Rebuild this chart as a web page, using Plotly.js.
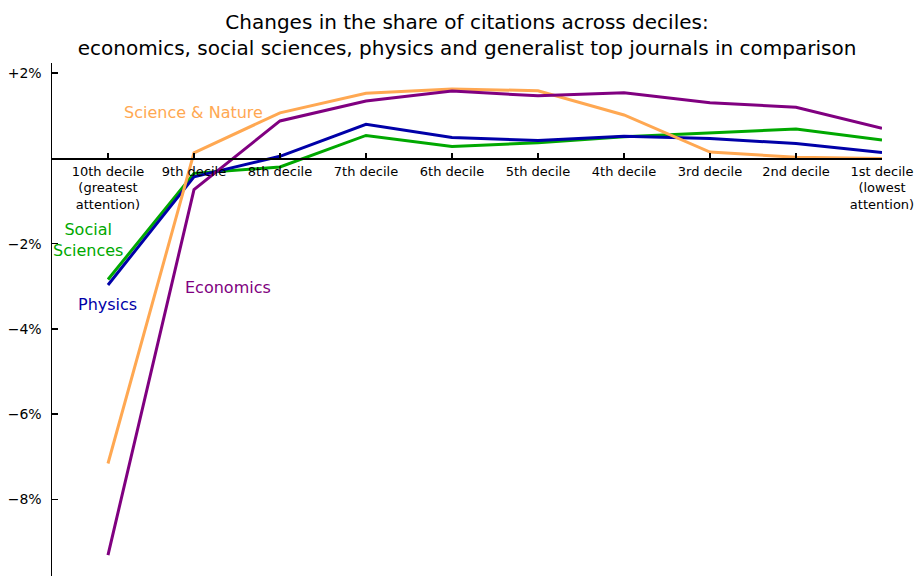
<!DOCTYPE html>
<html>
<head>
<meta charset="utf-8">
<script src="https://cdn.plot.ly/plotly-3.0.1.min.js"></script>
<style>html,body{margin:0;padding:0;background:#fff;}#chart{width:922px;height:576px;}</style>
</head>
<body>
<div id="chart"></div>
<script>
const deciles = ["10th decile<br>(greatest<br>attention)", "9th decile", "8th decile", "7th decile", "6th decile", "5th decile", "4th decile", "3rd decile", "2nd decile", "1st decile<br>(lowest<br>attention)"];
const xIndex = [0, 1, 2, 3, 4, 5, 6, 7, 8, 9];
const economics = [-9.31, -0.73, 0.88, 1.35, 1.58, 1.47, 1.54, 1.31, 1.20, 0.71];
const scienceNature = [-7.16, 0.13, 1.07, 1.53, 1.63, 1.59, 1.02, 0.15, 0.03, 0.0];
const physics = [-2.97, -0.43, 0.05, 0.80, 0.49, 0.42, 0.52, 0.47, 0.35, 0.14];
const socialSciences = [-2.84, -0.35, -0.20, 0.54, 0.28, 0.37, 0.51, 0.60, 0.69, 0.43];
const yTickVals = [-8, -6, -4, -2, 2];
const yTickText = ["\u22128%", "\u22126%", "\u22124%", "\u22122%", "+2%"];

const colors = {econ: "#800080", sci: "#FFA852", phys: "#0000A8", soc: "#00A800"};
const font = "DejaVu Sans, sans-serif";

function tr(y, c) {
  return {x: xIndex, y: y, type: "scatter", mode: "lines", line: {color: c, width: 3}, hoverinfo: "skip"};
}

const data = [
  tr(socialSciences, colors.soc),
  tr(physics, colors.phys),
  tr(scienceNature, colors.sci),
  tr(economics, colors.econ)
];

const yMin = -9.8, yMax = 2.24;
const layout = {
  width: 922, height: 576,
  margin: {l: 52, r: 40, t: 63, b: 0},
  paper_bgcolor: "#fff", plot_bgcolor: "#fff",
  showlegend: false,
  font: {family: font, color: "#000"},
  title: {
    text: "Changes in the share of citations across deciles:<br>economics, social sciences, physics and generalist top journals in comparison",
    font: {family: font, size: 20, color: "#000"},
    x: 0.5, xanchor: "center", xref: "paper", yref: "container", y: 1 - 29 / 576, yanchor: "middle"
  },
  xaxis: {
    range: [-0.651, 9],
    tickvals: xIndex, ticktext: deciles,
    anchor: "free", position: (0 - yMin) / (yMax - yMin),
    showline: true, linecolor: "#000", linewidth: 1.5,
    ticks: "inside", ticklen: 5, tickcolor: "#000", tickwidth: 1.5,
    showgrid: false, zeroline: false,
    tickfont: {family: font, size: 13, color: "#000"}
  },
  yaxis: {
    range: [yMin, yMax],
    tickvals: yTickVals, ticktext: yTickText,
    showline: true, linecolor: "#000", linewidth: 1.5,
    ticks: "inside", ticklen: 6, tickcolor: "#000", tickwidth: 1.5,
    ticklabelstandoff: 6,
    showgrid: false, zeroline: false,
    tickfont: {family: font, size: 14, color: "#000"}
  },
  annotations: [
    {x: 1, y: 1.08, text: "Science &amp; Nature", showarrow: false, font: {family: font, size: 16, color: colors.sci}, xanchor: "center", yanchor: "middle"},
    {x: -0.23, y: -1.91, text: "Social<br>Sciences", showarrow: false, font: {family: font, size: 16, color: colors.soc}, xanchor: "center", yanchor: "middle"},
    {x: 0.0, y: -3.42, text: "Physics", showarrow: false, font: {family: font, size: 16, color: colors.phys}, xanchor: "center", yanchor: "middle"},
    {x: 1.4, y: -3.02, text: "Economics", showarrow: false, font: {family: font, size: 16, color: colors.econ}, xanchor: "center", yanchor: "middle"}
  ]
};

Plotly.newPlot("chart", data, layout, {displayModeBar: false, staticPlot: true});
</script>
</body>
</html>
